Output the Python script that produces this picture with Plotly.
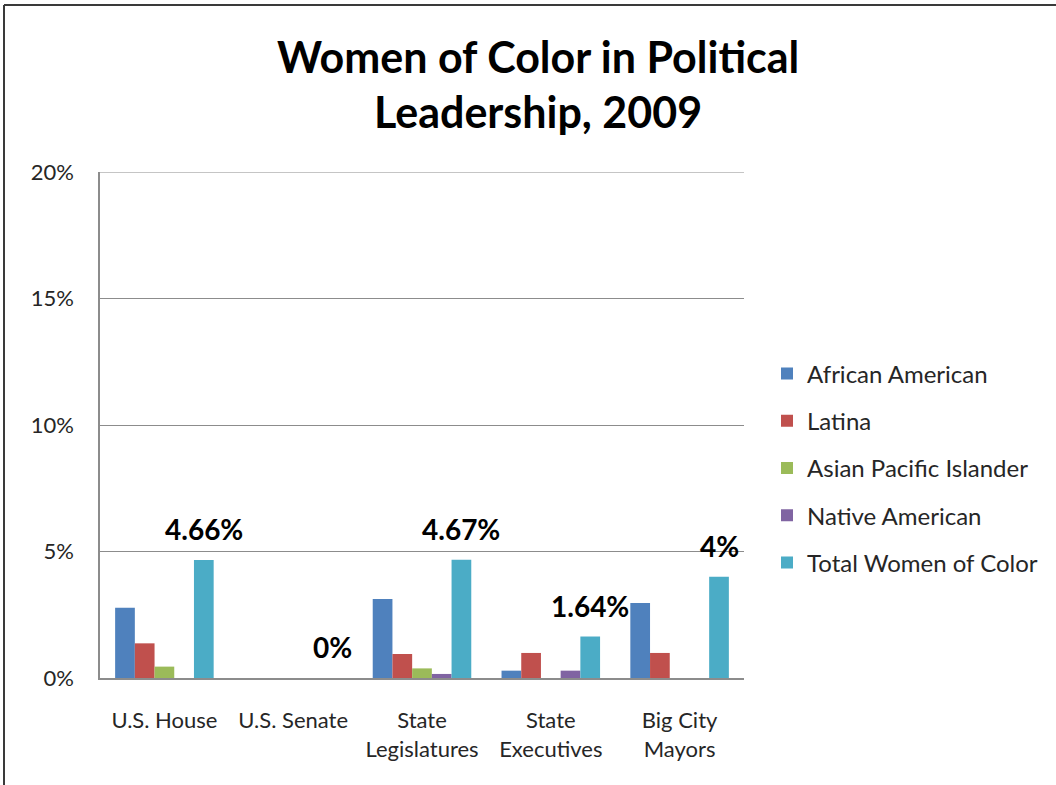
import plotly.graph_objects as go

categories = ["U.S. House", "U.S. Senate", "State<br>Legislatures", "State<br>Executives", "Big City<br>Mayors"]
african_american = [2.78, 0, 3.12, 0.29, 2.96]
latina = [1.37, 0, 0.95, 0.99, 0.99]
asian_pacific = [0.45, 0, 0.38, 0, 0]
native_american = [0, 0, 0.16, 0.29, 0]
total_woc = [4.66, 0, 4.67, 1.64, 4.0]
total_labels = ["4.66%", "0%", "4.67%", "1.64%", "4%"]
y_ticks = [0, 5, 10, 15, 20]
y_tick_text = ["0%", "5%", "10%", "15%", "20%"]

series = [
    ("African American", african_american, "#4F81BD"),
    ("Latina", latina, "#C0504D"),
    ("Asian Pacific Islander", asian_pacific, "#9BBB59"),
    ("Native American", native_american, "#8064A2"),
    ("Total Women of Color", total_woc, "#4BACC6"),
]

FONT = "Lato"
W, H = 1056, 785
L, R, T, B = 100, 312, 172, 107
PW, PH = W - L - R, H - T - B
BARGAP = 0.235
GRID = "#8c8c8c"

def px_x(px):
    return (px - L) / PW

def px_y(py):
    return (H - B - py) / PH

fig = go.Figure()
for i, (name, vals, color) in enumerate(series):
    fig.add_trace(go.Bar(
        x=categories, y=vals, name=name, marker_color=color,
        marker_line_width=0, legendgroup=f"g{i}",
    ))

n = len(series)
offset = (1 - BARGAP) / 2 - (1 - BARGAP) / (2 * n)
annotations = []
for i, (v, lab) in enumerate(zip(total_woc, total_labels)):
    annotations.append(dict(
        x=i + offset, y=v, xref="x", yref="y", text=lab, showarrow=False,
        yanchor="bottom", yshift=12,
        font=dict(family=FONT, size=28, color="#000000", weight="bold"),
    ))

annotations.append(dict(
    x=px_x(538), y=px_y(56), xref="paper", yref="paper", xanchor="center", yanchor="middle",
    text="<b>Women of Color in Political</b>", showarrow=False,
    font=dict(family=FONT, size=43, color="#000000"),
))
annotations.append(dict(
    x=px_x(538), y=px_y(111), xref="paper", yref="paper", xanchor="center", yanchor="middle",
    text="<b>Leadership, 2009</b>", showarrow=False,
    font=dict(family=FONT, size=43, color="#000000"),
))

shapes = [
    dict(type="line", xref="paper", yref="paper", x0=px_x(4), x1=px_x(W), y0=px_y(5), y1=px_y(5),
         line=dict(color="#3a3a3a", width=2)),
    dict(type="line", xref="paper", yref="paper", x0=px_x(4), x1=px_x(4), y0=px_y(5), y1=px_y(H),
         line=dict(color="#3a3a3a", width=2)),
    dict(type="line", xref="paper", yref="y", x0=0, x1=1, y0=y_ticks[-1], y1=y_ticks[-1],
         line=dict(color=GRID, width=1.2), layer="below"),
]

fig.update_layout(
    width=W, height=H,
    margin=dict(l=L, r=R, t=T, b=B, autoexpand=False),
    paper_bgcolor="white", plot_bgcolor="white",
    barmode="group", bargap=BARGAP, bargroupgap=0,
    font=dict(family=FONT, size=22, color="#262626"),
    showlegend=True,
    legend=dict(
        x=px_x(767), y=px_y(468), xanchor="left", yanchor="middle",
        font=dict(family=FONT, size=24, color="#262626"),
        tracegroupgap=13, bgcolor="rgba(0,0,0,0)",
    ),
    annotations=annotations,
    shapes=shapes,
)

fig.update_xaxes(
    showline=True, linecolor=GRID, linewidth=1.5,
    showgrid=False, ticks="", ticklabelstandoff=22,
    tickfont=dict(family=FONT, size=22, color="#262626"),
)
fig.update_yaxes(
    range=[0, 20], tickmode="array", tickvals=y_ticks, ticktext=y_tick_text,
    showline=True, linecolor=GRID, linewidth=1.5,
    showgrid=True, gridcolor=GRID, gridwidth=1.2,
    zeroline=False, ticks="", ticklabelstandoff=20,
    tickfont=dict(family=FONT, size=22, color="#262626"),
)

fig.write_html("out.html", config={"displayModeBar": False},
               post_script="document.body.style.margin='0';")
